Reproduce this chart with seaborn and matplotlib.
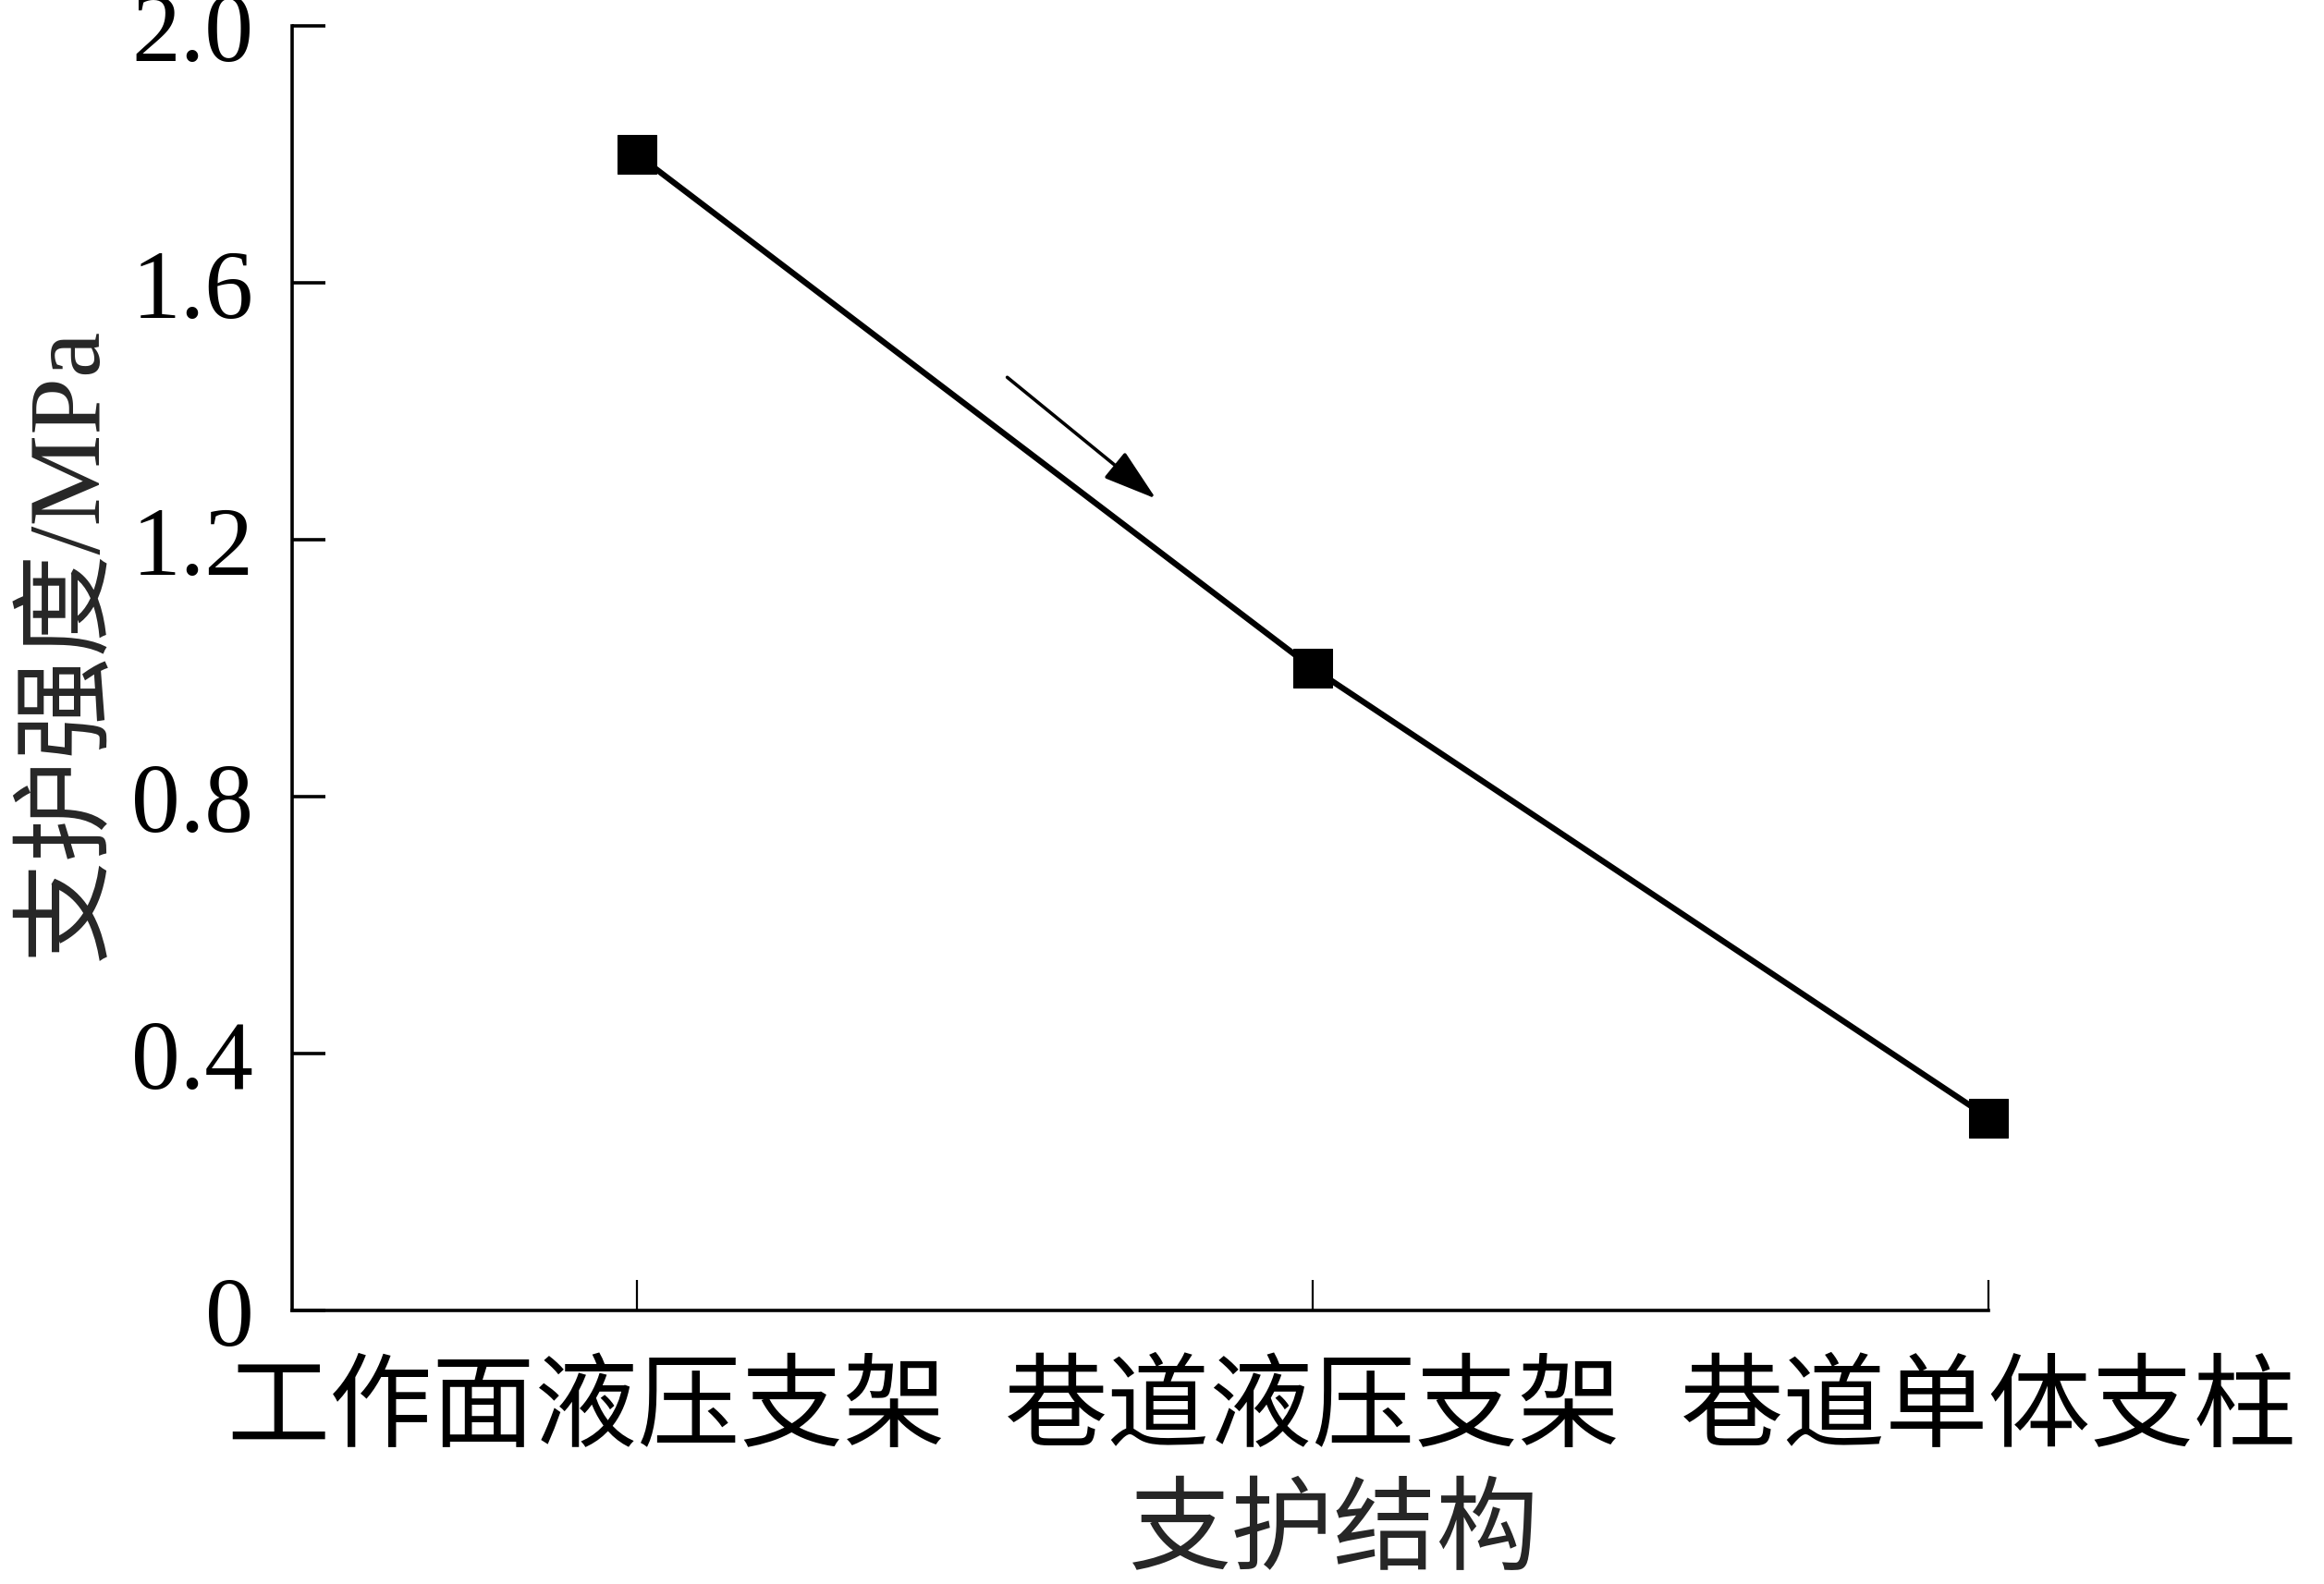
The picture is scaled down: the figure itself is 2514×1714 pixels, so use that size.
import matplotlib
matplotlib.use("Agg")
import matplotlib.pyplot as plt
import matplotlib.transforms as mtransforms
import pandas as pd
import seaborn as sns

# Support structure types and their support strength (MPa)
structures = ["工作面液压支架", "巷道液压支架", "巷道单体支柱"]
strength = [1.8, 1.0, 0.3]
y_ticks = [0, 0.4, 0.8, 1.2, 1.6, 2.0]
y_tick_labels = ["0", "0.4", "0.8", "1.2", "1.6", "2.0"]

sns.set_style("ticks")
plt.rcParams["font.family"] = ["Liberation Serif", "Noto Sans CJK SC"]
plt.rcParams["axes.unicode_minus"] = False

df = pd.DataFrame({"结构": structures, "强度": strength})

fig = plt.figure(figsize=(25.14, 17.15), dpi=100)
ax = fig.add_axes([0.1257, 0.1726, 0.730, 0.8104])

sns.lineplot(data=df, x="结构", y="强度", sort=False, ax=ax,
             color="black", linewidth=4.6, marker="s", markersize=30,
             markeredgecolor="black", markerfacecolor="black")
for line in ax.lines:
    line.set_clip_on(False)

ax.set_xlim(-0.51, 2.0)
ax.set_ylim(0, 2.0)
ax.set_yticks(y_ticks)
ax.set_yticklabels(y_tick_labels)

sns.despine(ax=ax)
for side in ("left", "bottom"):
    ax.spines[side].set_linewidth(2.6)
    ax.spines[side].set_color("black")

ax.tick_params(axis="y", direction="in", length=26, width=2.6,
               labelsize=76, pad=30, colors="black")
ax.tick_params(axis="x", direction="in", length=24, width=1.6,
               labelsize=80, pad=42, colors="black")

# Trend arrow alongside the line
ax.annotate("", xy=(0.768, 1.264), xytext=(0.548, 1.453),
            arrowprops=dict(arrowstyle="-|>,head_length=0.45,head_width=0.14",
                            color="black", lw=2.6, mutation_scale=80,
                            shrinkA=0, shrinkB=0))

ax.set_xlabel("支护结构", fontsize=80)
ax.set_ylabel("支护强度/MPa", fontsize=80)
ax.xaxis.set_label_coords(0.614, -0.138)
ax.yaxis.set_label_coords(-0.103, 0.52)

# Nudge the first category label left so the long labels do not collide
first = ax.get_xticklabels()[0]
first.set_transform(first.get_transform() +
                    mtransforms.ScaledTranslation(-0.55, 0, fig.dpi_scale_trans))

fig.savefig("out.png", dpi=100, facecolor="white")
